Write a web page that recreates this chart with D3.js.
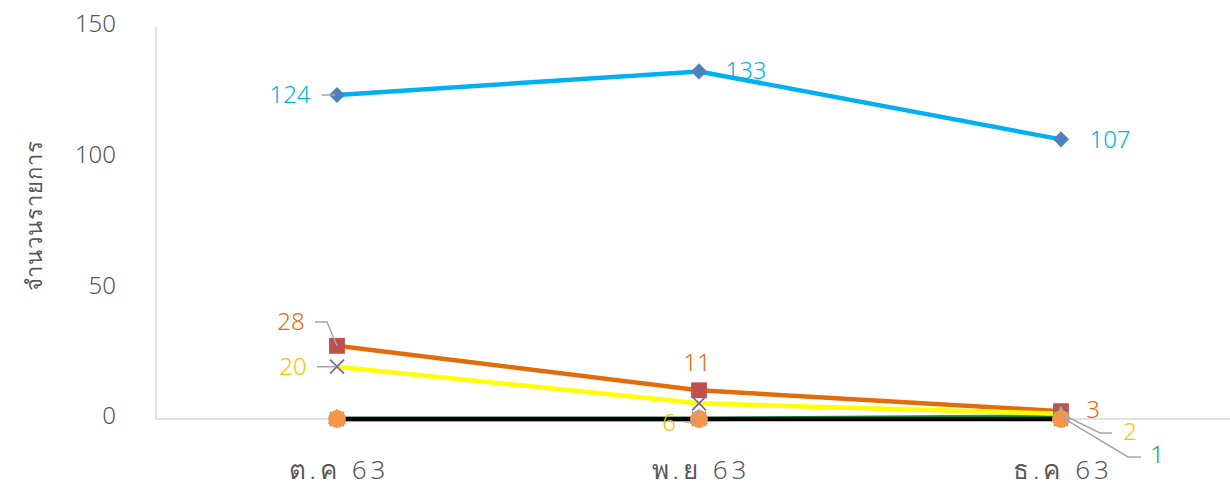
<!DOCTYPE html>
<html>
<head>
<meta charset="utf-8">
<script src="https://cdn.jsdelivr.net/npm/d3@7"></script>
<style>
  body { margin: 0; background: #fff; }
  text { font-family: "Noto Sans", "DejaVu Sans", sans-serif; font-weight: 300; }
</style>
</head>
<body>
<svg id="chart"></svg>
<script>
var width = 1230,
    height = 489;

// data
var categories = ["ต.ค 63", "พ.ย 63", "ธ.ค 63"];
var yTicks = [0, 50, 100, 150];
var seriesA = [124, 133, 107];   // blue line, diamonds
var seriesB = [28, 11, 3];       // orange line, squares
var seriesC = [0, 0, 1];         // green, triangles
var seriesD = [20, 6, 2];        // yellow line, x marks
var seriesE = [0, 0, 0];         // cyan stars
var seriesF = [0, 0, 0];         // black line, orange circles

var svg = d3.select("#chart")
    .attr("width", width)
    .attr("height", height);

var x = d3.scalePoint()
    .domain(categories)
    .range([156, 1242])
    .padding(0.5);

var y = d3.scaleLinear()
    .domain([0, 150])
    .range([419, 27]);

// axis lines
svg.append("line")
    .attr("x1", 156).attr("x2", 156)
    .attr("y1", y(150)).attr("y2", y(0))
    .attr("stroke", "#d9d9d9").attr("stroke-width", 1.5);
svg.append("line")
    .attr("x1", 156).attr("x2", width)
    .attr("y1", y(0)).attr("y2", y(0))
    .attr("stroke", "#d9d9d9").attr("stroke-width", 1.5);

// y tick labels
svg.selectAll(".ytick")
  .data(yTicks)
  .join("text")
    .attr("x", 116)
    .attr("y", function(d) { return y(d) - 3; })
    .attr("dy", "0.35em")
    .attr("text-anchor", "end")
    .style("font-size", "24px")
    .style("fill", "#595959")
    .text(function(d) { return d; });

// x tick labels
svg.selectAll(".xtick")
  .data(categories)
  .join("text")
    .attr("x", function(d) { return x(d) + 2; })
    .attr("y", 470)
    .attr("dy", "0.35em")
    .attr("text-anchor", "middle")
    .style("font-size", "26px")
    .style("letter-spacing", "4px")
    .style("fill", "#595959")
    .text(function(d) { return d; });

// y axis title
svg.append("text")
    .attr("transform", "translate(34,215) rotate(-90)")
    .attr("dy", "0.35em")
    .attr("text-anchor", "middle")
    .style("font-size", "22px")
    .style("letter-spacing", "1px")
    .style("fill", "#595959")
    .text("จำนวนรายการ");

var line = d3.line()
    .x(function(d, i) { return x(categories[i]); })
    .y(function(d) { return y(d); });

// Excel-like series order: 1..6
var series = [
  {values: seriesA, line: "#00b0f0", marker: "diamond", mcolor: "#4f81bd"},
  {values: seriesB, line: "#e36c0a", marker: "square", mcolor: "#c0504d"},
  {values: seriesC, line: "#00b050", marker: "triangle", mcolor: "#9bbb59"},
  {values: seriesD, line: "#ffff00", marker: "cross", mcolor: "#8064a2"},
  {values: seriesE, line: "none", marker: "star", mcolor: "#4bacc6"},
  {values: seriesF, line: "#000000", marker: "circle", mcolor: "#f79646"}
];

series.forEach(function(s) {
  if (s.line === "none") return;
  svg.append("path")
      .datum(s.values)
      .attr("d", line)
      .attr("fill", "none")
      .attr("stroke", s.line)
      .attr("stroke-width", 4.5);
});

var symbols = {
  circle: d3.symbol().type(d3.symbolCircle).size(250),
  triangle: d3.symbol().type(d3.symbolTriangle).size(150),
  square: d3.symbol().type(d3.symbolSquare).size(250),
  diamond: d3.symbol().type(d3.symbolSquare).size(130)
};

series.forEach(function(s) {
  var g = svg.append("g");
  s.values.forEach(function(v, i) {
    var px = x(categories[i]), py = y(v);
    if (s.marker === "cross" || s.marker === "star") {
      var r = 7;
      var p = "M" + (px - r) + "," + (py - r) + "L" + (px + r) + "," + (py + r) +
              "M" + (px - r) + "," + (py + r) + "L" + (px + r) + "," + (py - r);
      if (s.marker === "star") p += "M" + px + "," + (py - r) + "L" + px + "," + (py + r);
      g.append("path").attr("d", p)
          .attr("stroke", s.mcolor).attr("stroke-width", 1.8).attr("fill", "none");
    } else {
      g.append("path")
          .attr("d", symbols[s.marker])
          .attr("transform", "translate(" + px + "," + py + ")" +
                (s.marker === "diamond" ? " rotate(45)" : ""))
          .attr("fill", s.mcolor);
    }
  });
});

// leader lines
function leader(pts) {
  svg.append("path")
      .attr("d", d3.line()(pts))
      .attr("fill", "none")
      .attr("stroke", "#a6a6a6")
      .attr("stroke-width", 1.5);
}
var c0 = x(categories[0]), c1 = x(categories[1]), c2 = x(categories[2]);
leader([[322, y(seriesA[0])], [c0 - 2, y(seriesA[0])]]);
leader([[315, 322], [327, 322], [c0, y(seriesB[0])]]);
leader([[317, y(seriesD[0])], [c0 - 2, y(seriesD[0])]]);
leader([[685, 422], [693, 422], [c1, y(seriesD[1]) + 6]]);
leader([[c2, y(seriesD[2])], [1100, 433], [1112, 433]]);
leader([[c2 + 1, y(seriesC[2]) + 1], [1128, 457], [1141, 457]]);

// data labels
function label(tx, ty, txt, color, anchor) {
  svg.append("text")
      .attr("x", tx).attr("y", ty)
      .attr("dy", "0.35em")
      .attr("text-anchor", anchor || "middle")
      .style("font-size", "24px")
      .style("fill", color)
      .text(txt);
}
label(290, y(seriesA[0]), seriesA[0], "#00b0f0");
label(746, y(seriesA[1]) - 1, seriesA[1], "#00b0f0");
label(1110, y(seriesA[2]), seriesA[2], "#00b0f0");
label(291, 322, seriesB[0], "#e36c0a");
label(697, 363, seriesB[1], "#e36c0a");
label(1093, 410, seriesB[2], "#e36c0a");
label(293, 367, seriesD[0], "#ffc000");
label(669, 423, seriesD[1], "#ffc000");
label(1130, 432, seriesD[2], "#ffc000");
label(1157, 455, seriesC[2], "#00b050");
</script>
</body>
</html>
